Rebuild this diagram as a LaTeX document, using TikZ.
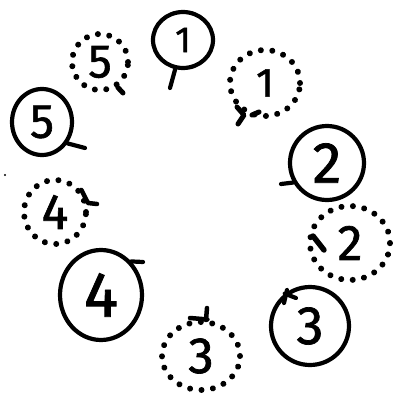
\documentclass[tikz,border=0pt]{standalone}
\usepackage{fontspec}
\setmainfont{Fira Sans}
\newfontfamily\digfont{Fira Sans}[FakeBold=1.3]
\usetikzlibrary{shapes.geometric}
\tikzset{
  solidc/.style={ellipse, draw, line width=4.2pt, inner sep=0pt},
  dotc/.style={ellipse, draw, line width=6pt, line cap=round, dash pattern=on 0.01pt off 11.5pt, inner sep=0pt},
  stem/.style={line width=4.2pt, line cap=round, line join=round},
  dig/.style={font=\fontsize{#1}{#1}\digfont},
}
\begin{document}
\begin{tikzpicture}[x=1pt,y=-1pt]
\useasboundingbox (0,0) rectangle (393,397);
% solid circles
\node[solidc, minimum width=60pt, minimum height=56pt, dig=36] (s1) at (183,40) {1};
\node[solidc, minimum width=60pt, minimum height=66pt, dig=48] (s5) at (42,122) {5};
\node[solidc, minimum width=82pt, minimum height=90pt, dig=64] (s4) at (101,295) {4};
\node[solidc, minimum width=78pt, minimum height=78pt, dig=54] (s3) at (310,326) {3};
\node[solidc, minimum width=74pt, minimum height=74pt, dig=58] (s2) at (327,163) {2};
% dotted circles
\node[dotc, minimum width=56pt, minimum height=56pt, dig=47] (d5) at (100,62) {5};
\node[dotc, minimum width=70pt, minimum height=66pt, dig=41] (d1) at (265,83) {1};
\node[dotc, minimum width=62pt, minimum height=64pt, dig=50] (d4) at (55,212) {4};
\node[dotc, minimum width=78pt, minimum height=68pt, dig=51] (d3) at (201,356) {3};
\node[dotc, minimum width=80pt, minimum height=74pt, dig=50] (d2) at (350,243) {2};
% stems
\coordinate (s1e) at (170,88);
\draw[stem] (s1.-105) -- (s1e);
\coordinate (s5e) at (85,148);
\draw[stem] (s5.-40) -- (s5e);
\coordinate (s4e) at (143,262);
\draw[stem] (s4.48) -- (s4e);
\coordinate (s3e) at (296,298);
\coordinate (s3a) at (287,290);
\coordinate (s3b) at (284,303);
\draw[stem] (s3.128) -- (s3e);
\draw[stem] (s3a) -- (s3b);
\coordinate (s2e) at (281,184);
\draw[stem] (s2.-150) -- (s2e);
\coordinate (d5e) at (123,93);
\draw[stem,line width=5pt] (d5.-55) -- (d5e);
\coordinate (d1s) at (237,107);
\coordinate (d1a) at (244,115);
\coordinate (d1e) at (238,124);
\coordinate (d1b) at (252,115);
\coordinate (d1c) at (259,112);
\draw[stem,line width=5pt] (d1s) -- (d1a) -- (d1e);
\draw[stem,line width=5pt] (d1b) -- (d1c);
\coordinate (d4a) at (88,203);
\coordinate (d4e) at (97,204);
\draw[stem,line width=4.5pt] (d4.40) -- (d4a) -- (d4e);
\coordinate (d3a) at (190,318);
\coordinate (d3b) at (207,308);
\coordinate (d3c) at (206,320);
\draw[stem,line width=4.5pt] (d3a) -- (d3.80);
\draw[stem,line width=4.5pt] (d3b) -- (d3c);
\coordinate (d2s) at (313,236);
\coordinate (d2e) at (324,250);
\draw[stem,line width=5.5pt] (d2s) -- (d2e);
% stray dot
\fill (5,175) circle (1.2pt);
\end{tikzpicture}
\end{document}
